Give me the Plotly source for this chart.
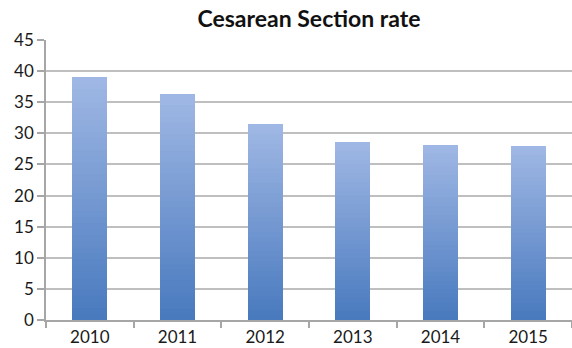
import plotly.graph_objects as go

years = ["2010", "2011", "2012", "2013", "2014", "2015"]
rates = [39.0, 36.3, 31.5, 28.6, 28.2, 27.9]
y_ticks = [0, 5, 10, 15, 20, 25, 30, 35, 40, 45]
title_text = "Cesarean Section rate"

N = 40
top_rgb = (160, 184, 228)
bot_rgb = (72, 121, 190)

def mix(f):
    return "rgb(%d,%d,%d)" % tuple(round(b + (t - b) * f) for t, b in zip(top_rgb, bot_rgb))

fig = go.Figure()
for i in range(N):
    f = (i + 0.5) / N
    fig.add_trace(go.Bar(
        x=years,
        y=[v / N for v in rates],
        marker=dict(color=mix(f), line=dict(width=0)),
        showlegend=False,
        hoverinfo="skip",
    ))

font_family = "Lato, 'Open Sans', sans-serif"
fig.update_layout(
    width=572, height=348,
    margin=dict(l=46, r=0, t=40, b=28),
    barmode="stack",
    bargap=0.6,
    plot_bgcolor="white",
    paper_bgcolor="white",
    font=dict(family=font_family, size=17, color="#1a1a1a"),
    title=dict(text="<b>" + title_text + "</b>", x=0.5, xref="paper", xanchor="center",
               y=0.945, yref="container", yanchor="middle",
               font=dict(size=23, color="#111111", family=font_family)),
    xaxis=dict(
        type="category",
        categoryorder="array", categoryarray=years,
        range=[-0.5, 5.5],
        showline=True, linecolor="#a6a6a6", linewidth=1.5,
        ticks="outside", tickson="boundaries", ticklen=6, tickcolor="#a6a6a6", tickwidth=1.5,
        showgrid=False,
        tickfont=dict(size=17),
        ticklabelstandoff=1,
        automargin=False,
    ),
    yaxis=dict(
        range=[0, 45],
        tickvals=y_ticks,
        showline=True, linecolor="#a6a6a6", linewidth=1.5,
        ticks="outside", ticklen=7, tickcolor="#a6a6a6", tickwidth=1.5,
        showgrid=True, gridcolor="#bfbfbf", gridwidth=1.5,
        zeroline=False,
        tickfont=dict(size=17),
        automargin=False,
    ),
)

fig.write_html("out.html")
